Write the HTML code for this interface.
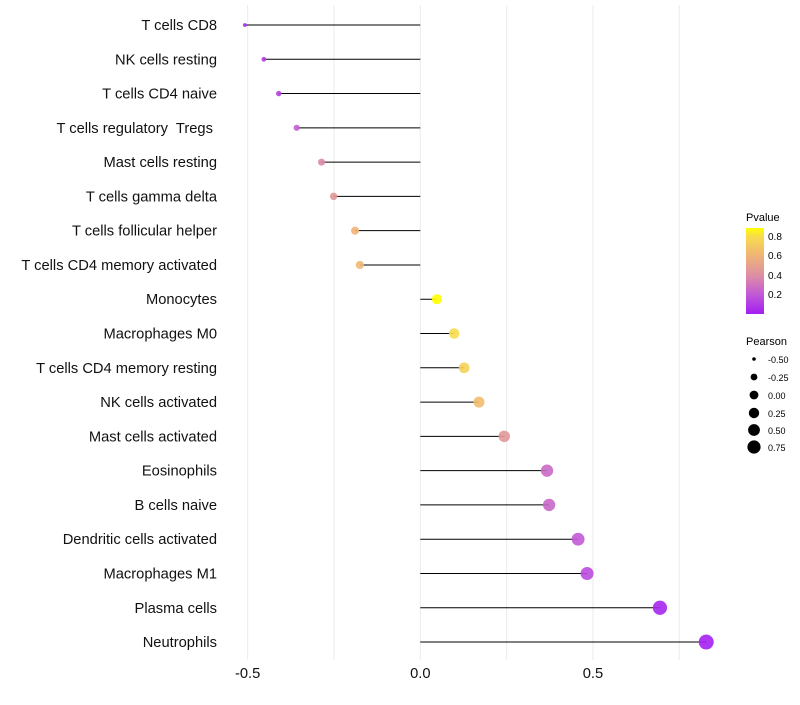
<!DOCTYPE html>
<html><head><meta charset="utf-8"><style>
body{margin:0;background:#fff;font-family:"Liberation Sans",sans-serif}
text{white-space:pre}
</style></head><body>
<svg id="c" width="800" height="700" xmlns="http://www.w3.org/2000/svg">
<defs><linearGradient id="pg" x1="0" y1="1" x2="0" y2="0">
<stop offset="0" stop-color="#A21EF2"/><stop offset="0.23" stop-color="#C25AD6"/><stop offset="0.45" stop-color="#DD8FA3"/><stop offset="0.68" stop-color="#EFB476"/><stop offset="0.9" stop-color="#F8DC4C"/><stop offset="1" stop-color="#FFFF00"/></linearGradient></defs>
<g id="grid"></g><g id="marks"></g><g id="ylabels"></g><g id="xlabels"></g>
<g font-size="10" fill="#000">
<text x="746" y="221" font-size="11">Pvalue</text>
<rect x="746" y="228" width="18" height="86" fill="url(#pg)"/>
<text x="768" y="240">0.8</text><text x="768" y="259">0.6</text><text x="768" y="279">0.4</text><text x="768" y="298">0.2</text>
<text x="746" y="345" font-size="11">Pearson</text>
<circle cx="754" cy="359" r="1.8"/><text x="768" y="363" font-size="9">-0.50</text>
<circle cx="754" cy="377" r="3.4"/><text x="768" y="381" font-size="9">-0.25</text>
<circle cx="754" cy="395" r="4.4"/><text x="768" y="399" font-size="9">0.00</text>
<circle cx="754" cy="413" r="5.2"/><text x="768" y="417" font-size="9">0.25</text>
<circle cx="754" cy="430" r="5.9"/><text x="768" y="434" font-size="9">0.50</text>
<circle cx="754" cy="447" r="6.6"/><text x="768" y="451" font-size="9">0.75</text>
</g>
</svg>
<script>
const categories=["T cells CD8","NK cells resting","T cells CD4 naive","T cells regulatory  Tregs ","Mast cells resting","T cells gamma delta","T cells follicular helper","T cells CD4 memory activated","Monocytes","Macrophages M0","T cells CD4 memory resting","NK cells activated","Mast cells activated","Eosinophils","B cells naive","Dendritic cells activated","Macrophages M1","Plasma cells","Neutrophils"];
const pearson=[-0.508,-0.453,-0.41,-0.358,-0.286,-0.251,-0.189,-0.175,0.048,0.098,0.127,0.17,0.243,0.367,0.373,0.457,0.483,0.694,0.828];
const pvalue=[0.05,0.1,0.12,0.22,0.38,0.45,0.6,0.62,0.88,0.8,0.74,0.64,0.45,0.26,0.25,0.2,0.15,0.03,0.01];
const xTicks=[-0.5,0,0.5];
const xTickLabels=["-0.5","0.0","0.5"];
const xGrid=[-0.5,-0.25,0,0.25,0.5,0.75];
const NS="http://www.w3.org/2000/svg";
const xs=v=>420.3+v*345.3;
const ys=i=>25+i*34.28;
const rs=v=>Math.sqrt(4+39.3*(v+0.5));
const stops=[[0,[162,30,242]],[0.2,[194,90,214]],[0.4,[221,143,163]],[0.6,[239,180,118]],[0.8,[248,220,76]],[0.88,[255,255,0]]];
function col(p){p=Math.max(0,Math.min(0.88,p));for(let i=1;i<stops.length;i++){if(p<=stops[i][0]){const a=stops[i-1],b=stops[i];const t=(p-a[0])/(b[0]-a[0]);return "rgb("+a[1].map((c,k)=>Math.round(c+(b[1][k]-c)*t)).join(",")+")";}}return "rgb(255,255,0)";}
function mk(t,a,p){const e=document.createElementNS(NS,t);for(const k in a)e.setAttribute(k,a[k]);p.appendChild(e);return e;}
const g=document.getElementById('grid'),m=document.getElementById('marks'),yl=document.getElementById('ylabels'),xl=document.getElementById('xlabels');
xGrid.forEach(v=>{const l=mk('line',{x1:xs(v),x2:xs(v),y1:5,y2:660,stroke:'#ebebeb','stroke-width':1},g);

});
categories.forEach((c,i)=>{const y=ys(i);
const ln=mk('line',{x1:xs(0),x2:xs(pearson[i]),y1:y,y2:y,stroke:'#000','stroke-width':1},m);


const ci=mk('circle',{cx:xs(pearson[i]),cy:y,r:rs(pearson[i]),fill:col(pvalue[i]),'fill-opacity':0.9},m);


const t=mk('text',{x:217,y:y+5,'text-anchor':'end','font-size':14.7,fill:'#111'},yl);t.textContent=c;

});
xTicks.forEach((v,i)=>{const t=mk('text',{x:xs(v),y:678,'text-anchor':'middle','font-size':14.7,fill:'#111'},xl);t.textContent=xTickLabels[i];

});
</script>
</body></html>
